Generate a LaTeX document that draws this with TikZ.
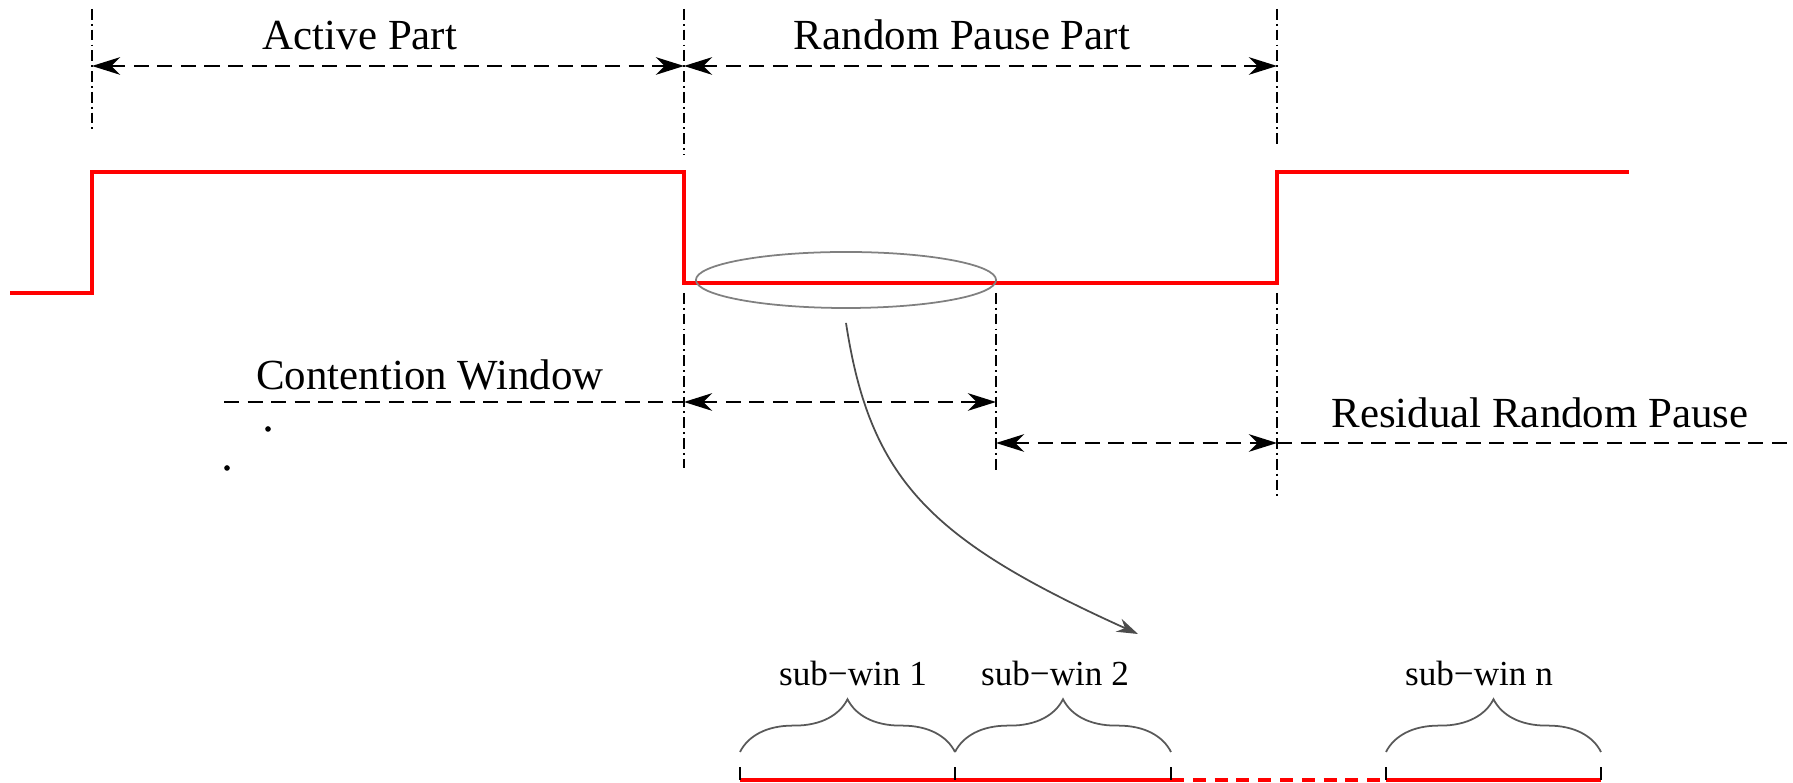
\documentclass[tikz,border=0pt]{standalone}
\usepackage{fontspec}
\setmainfont{Liberation Serif}
\usetikzlibrary{arrows.meta,shapes.geometric,decorations.pathreplacing}

\begin{document}
\begin{tikzpicture}[x=0.01cm, y=-0.01cm, >={Stealth[length=8pt,width=5pt,inset=2.5pt]},
  guide/.style={line width=0.6pt, dash pattern=on 3pt off 1.2pt on 0.5pt off 1.2pt},
  dimline/.style={line width=0.7pt, dash pattern=on 4.3pt off 2.4pt},
  signal/.style={red, line width=1.3pt},
  slot/.style={red, line width=0.9pt},
  txt/.style={font=\fontsize{12.2}{14}\selectfont, anchor=base, inner sep=0pt},
  subtxt/.style={font=\fontsize{10}{12}\selectfont, anchor=base, inner sep=0pt},
  subbrace/.style={gray!70!black, line width=0.5pt, decorate,
                   decoration={brace, amplitude=15pt}}]
  \useasboundingbox (0,0) rectangle (1793,783);

  % time marks
  \draw[guide] (92,9) -- (92,130);
  \draw[guide] (684,9) -- (684,155);
  \draw[guide] (1277,9) -- (1277,147);
  \draw[guide] (684,293) -- (684,468);
  \draw[guide] (996,293) -- (996,470);
  \draw[guide] (1277,293) -- (1277,497);

  % the signal
  \draw[signal] (10,293) -- (92,293) -- (92,172) -- (684,172) -- (684,283)
    -- (1277,283) -- (1277,172) -- (1629,172);

  % top dimensions
  \coordinate (ta) at (92,66);
  \coordinate (tp) at (684,66);
  \coordinate (te) at (1277,66);
  \draw[dimline,<->] (ta) -- (tp);
  \draw[dimline,<->] (tp) -- (te);
  \node (act) [txt] at (360,50) {Active Part};
  \node (rpp) [txt] at (962,50) {Random Pause Part};

  % contention window
  \coordinate (cw0) at (224,402);
  \coordinate (cw1) at (684,402);
  \coordinate (cw2) at (996,402);
  \draw[dimline] (cw0) -- (cw1);
  \draw[dimline,<->] (cw1) -- (cw2);
  \node (cwl) [txt] at (430,390) {Contention Window};
  \fill (268,429) circle (0.8pt);
  \fill (227,468) circle (0.8pt);

  % residual pause
  \coordinate (rr0) at (996,443);
  \coordinate (rr1) at (1277,443);
  \coordinate (rr2) at (1793,443);
  \draw[dimline,<->] (rr0) -- (rr1);
  \draw[dimline] (rr1) -- (rr2);
  \node (rrl) [txt] at (1540,428) {Residual Random Pause};

  % zoom into the window
  \node (cwin) [draw=gray, line width=0.5pt, ellipse, minimum width=3cm,
                minimum height=0.56cm, inner sep=0pt] at (846,280) {};
  \coordinate (zend) at (1138,634);
  \draw[gray!60!black, line width=0.5pt, -{Stealth[length=6pt,width=4pt]}]
    ([yshift=-0.14cm]cwin.south) .. controls (870,480) and (930,540) .. (zend);

  % sub-windows
  \coordinate (s0) at (740,780);
  \coordinate (s1) at (955,780);
  \coordinate (s2) at (1171,780);
  \coordinate (s3) at (1386,780);
  \coordinate (s4) at (1601,780);
  \draw[slot] (s0) -- (s2);
  \draw[slot, dash pattern=on 3.7pt off 2.5pt] (s2) -- (s3);
  \draw[slot] (s3) -- (s4);
  \foreach \s in {s0,s1,s2,s3,s4}
    \draw[line width=0.6pt] (\s) -- ++(0,-13);

  \draw[subbrace] ([yshift=0.28cm]s0) -- ([yshift=0.28cm]s1);
  \draw[subbrace] ([yshift=0.28cm]s1) -- ([yshift=0.28cm]s2);
  \draw[subbrace] ([yshift=0.28cm]s3) -- ([yshift=0.28cm]s4);
  \node (sw1) [subtxt] at (853,686) {sub−win 1};
  \node (sw2) [subtxt] at (1055,686) {sub−win 2};
  \node (swn) [subtxt] at (1479,686) {sub−win n};
\end{tikzpicture}
\end{document}
